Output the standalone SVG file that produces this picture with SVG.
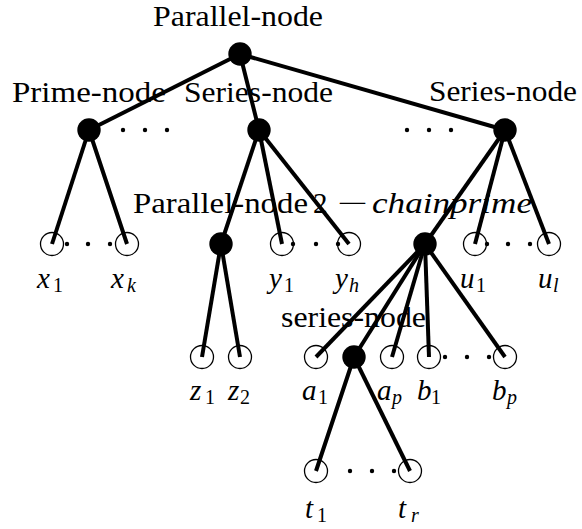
<svg xmlns="http://www.w3.org/2000/svg" width="582" height="529" viewBox="0 0 582 529">
<style>
.e{stroke:#000;stroke-width:4}
.f{fill:#000}
.o{fill:none;stroke:#000;stroke-width:1.3}
.d{fill:#000}
</style>
<rect width="582" height="529" fill="#fff"/>
<g id="connectors">
<line class="e" x1="240" y1="54" x2="89" y2="130"/>
<line class="e" x1="240" y1="54" x2="259" y2="130"/>
<line class="e" x1="240" y1="54" x2="505" y2="130"/>
<line class="e" x1="89" y1="130" x2="52" y2="244"/>
<line class="e" x1="89" y1="130" x2="127" y2="244"/>
<line class="e" x1="259" y1="130" x2="221" y2="244"/>
<line class="e" x1="259" y1="130" x2="282" y2="244"/>
<line class="e" x1="259" y1="130" x2="349" y2="244"/>
<line class="e" x1="221" y1="244" x2="202" y2="357"/>
<line class="e" x1="221" y1="244" x2="240" y2="357"/>
<line class="e" x1="505" y1="130" x2="425" y2="244"/>
<line class="e" x1="505" y1="130" x2="475" y2="244"/>
<line class="e" x1="505" y1="130" x2="549" y2="244"/>
<line class="e" x1="425" y1="244" x2="316" y2="357"/>
<line class="e" x1="425" y1="244" x2="354" y2="357"/>
<line class="e" x1="425" y1="244" x2="392" y2="357"/>
<line class="e" x1="425" y1="244" x2="429" y2="357"/>
<line class="e" x1="425" y1="244" x2="505" y2="357"/>
<line class="e" x1="354" y1="357" x2="316" y2="471"/>
<line class="e" x1="354" y1="357" x2="410" y2="471"/>
</g>
<g id="ellipses">
<circle class="d" cx="123" cy="130" r="2.2"/><circle class="d" cx="145" cy="130" r="2.2"/><circle class="d" cx="167" cy="130" r="2.2"/>
<circle class="d" cx="407" cy="130" r="2.2"/><circle class="d" cx="429" cy="130" r="2.2"/><circle class="d" cx="451" cy="130" r="2.2"/>
<circle class="d" cx="67" cy="244" r="2.2"/><circle class="d" cx="88" cy="244" r="2.2"/><circle class="d" cx="110" cy="244" r="2.2"/>
<circle class="d" cx="293" cy="244" r="2.2"/><circle class="d" cx="316" cy="244" r="2.2"/><circle class="d" cx="338" cy="244" r="2.2"/>
<circle class="d" cx="487" cy="244" r="2.2"/><circle class="d" cx="508" cy="244" r="2.2"/><circle class="d" cx="530" cy="244" r="2.2"/>
<circle class="d" cx="445" cy="357" r="2.2"/><circle class="d" cx="467" cy="357" r="2.2"/><circle class="d" cx="489" cy="357" r="2.2"/>
<circle class="d" cx="350" cy="471" r="2.2"/><circle class="d" cx="372" cy="471" r="2.2"/><circle class="d" cx="394" cy="471" r="2.2"/>
</g>
<g id="root"><circle class="f" cx="240" cy="54" r="11.7"/><text style="font-family:'Liberation Serif',serif;font-size:29px" x="153" y="26" textLength="170" lengthAdjust="spacingAndGlyphs">Parallel-node</text></g>
<g id="prime"><circle class="f" cx="89" cy="130" r="11.7"/><text style="font-family:'Liberation Serif',serif;font-size:29px" x="12" y="102" textLength="154" lengthAdjust="spacingAndGlyphs">Prime-node</text></g>
<g id="series1"><circle class="f" cx="259" cy="130" r="11.7"/><text style="font-family:'Liberation Serif',serif;font-size:29px" x="184" y="102" textLength="149" lengthAdjust="spacingAndGlyphs">Series-node</text></g>
<g id="series2"><circle class="f" cx="505" cy="130" r="11.7"/><text style="font-family:'Liberation Serif',serif;font-size:29px" x="429" y="101" textLength="148" lengthAdjust="spacingAndGlyphs">Series-node</text></g>
<g id="x1"><circle class="o" cx="52" cy="244" r="11.5"/><text style="font-family:'Liberation Serif',serif;font-size:29px;font-style:italic" x="37" y="288">x<tspan style="font-size:20px;font-style:normal" x="53" y="292">1</tspan></text></g>
<g id="xk"><circle class="o" cx="127" cy="244" r="11.5"/><text style="font-family:'Liberation Serif',serif;font-size:29px;font-style:italic" x="111" y="288">x<tspan style="font-size:20px" x="127" y="292">k</tspan></text></g>
<g id="parallel2"><circle class="f" cx="221" cy="244" r="11.7"/><text style="font-family:'Liberation Serif',serif;font-size:29px" x="133" y="213" textLength="175" lengthAdjust="spacingAndGlyphs">Parallel-node</text></g>
<g id="y1"><circle class="o" cx="282" cy="244" r="11.5"/><text style="font-family:'Liberation Serif',serif;font-size:29px;font-style:italic" x="269" y="288">y<tspan style="font-size:20px;font-style:normal" x="284" y="292">1</tspan></text></g>
<g id="yh"><circle class="o" cx="349" cy="244" r="11.5"/><text style="font-family:'Liberation Serif',serif;font-size:29px;font-style:italic" x="335" y="288">y<tspan style="font-size:20px" x="349" y="292">h</tspan></text></g>
<g id="chainprime"><circle class="f" cx="425" cy="244" r="11.7"/><text style="font-family:'Liberation Serif',serif;font-size:29px" x="313" y="213">2</text><text style="font-family:'Liberation Serif',serif;font-size:29px" x="337" y="213" textLength="31" lengthAdjust="spacingAndGlyphs">&#x2212;</text><text style="font-family:'Liberation Serif',serif;font-size:29px;font-style:italic" x="372" y="213" textLength="160" lengthAdjust="spacingAndGlyphs">chainprime</text></g>
<g id="u1"><circle class="o" cx="475" cy="244" r="11.5"/><text style="font-family:'Liberation Serif',serif;font-size:29px;font-style:italic" x="460" y="288">u<tspan style="font-size:20px;font-style:normal" x="476" y="292">1</tspan></text></g>
<g id="ul"><circle class="o" cx="549" cy="244" r="11.5"/><text style="font-family:'Liberation Serif',serif;font-size:29px;font-style:italic" x="538" y="288">u<tspan style="font-size:20px" x="553" y="292">l</tspan></text></g>
<g id="z1"><circle class="o" cx="202" cy="357" r="11.5"/><text style="font-family:'Liberation Serif',serif;font-size:29px;font-style:italic" x="190" y="400">z<tspan style="font-size:20px;font-style:normal" x="205" y="404">1</tspan></text></g>
<g id="z2"><circle class="o" cx="240" cy="357" r="11.5"/><text style="font-family:'Liberation Serif',serif;font-size:29px;font-style:italic" x="228" y="400">z<tspan style="font-size:20px;font-style:normal" x="240" y="404">2</tspan></text></g>
<g id="a1"><circle class="o" cx="316" cy="357" r="11.5"/><text style="font-family:'Liberation Serif',serif;font-size:29px;font-style:italic" x="302" y="400">a<tspan style="font-size:20px;font-style:normal" x="318" y="404">1</tspan></text></g>
<g id="series3"><circle class="f" cx="354" cy="357" r="11.7"/><text style="font-family:'Liberation Serif',serif;font-size:29px" x="281" y="327" textLength="145" lengthAdjust="spacingAndGlyphs">series-node</text></g>
<g id="ap"><circle class="o" cx="392" cy="357" r="11.5"/><text style="font-family:'Liberation Serif',serif;font-size:29px;font-style:italic" x="377" y="400">a<tspan style="font-size:20px" x="392" y="404">p</tspan></text></g>
<g id="b1"><circle class="o" cx="429" cy="357" r="11.5"/><text style="font-family:'Liberation Serif',serif;font-size:29px;font-style:italic" x="417" y="400">b<tspan style="font-size:20px;font-style:normal" x="431" y="404">1</tspan></text></g>
<g id="bp"><circle class="o" cx="505" cy="357" r="11.5"/><text style="font-family:'Liberation Serif',serif;font-size:29px;font-style:italic" x="492" y="400">b<tspan style="font-size:20px" x="507" y="404">p</tspan></text></g>
<g id="t1"><circle class="o" cx="316" cy="471" r="11.5"/><text style="font-family:'Liberation Serif',serif;font-size:29px;font-style:italic" x="305" y="518">t<tspan style="font-size:20px;font-style:normal" x="317" y="522">1</tspan></text></g>
<g id="tr"><circle class="o" cx="410" cy="471" r="11.5"/><text style="font-family:'Liberation Serif',serif;font-size:29px;font-style:italic" x="398" y="518">t<tspan style="font-size:20px" x="411" y="522">r</tspan></text></g>
</svg>
